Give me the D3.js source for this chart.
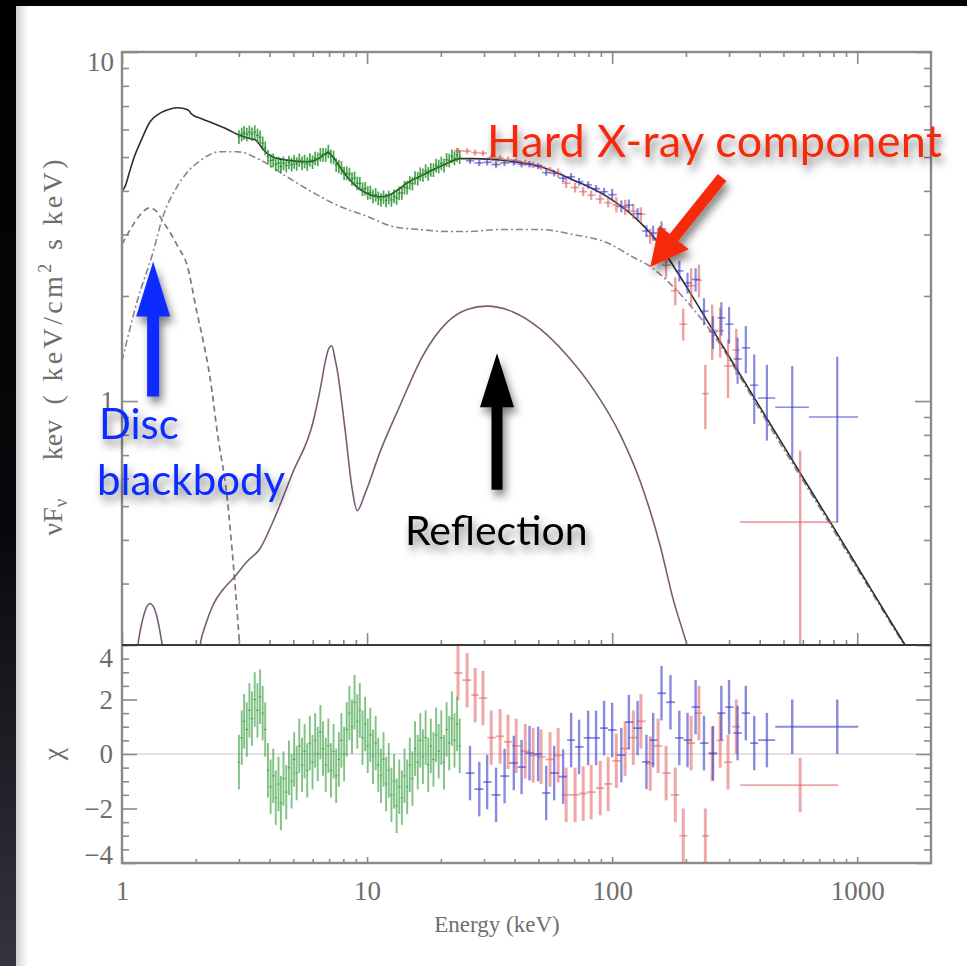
<!DOCTYPE html>
<html><head><meta charset="utf-8">
<script src="https://cdn.jsdelivr.net/npm/d3@7"></script>
<style>html,body{margin:0;padding:0;background:#000;overflow:hidden}</style>
</head><body>
<script>
// ---------------- DATA ----------------
const xTickMajor = [1, 10, 100, 1000];
const xTickLabels = ["1", "10", "100", "1000"];
const yTopMajor = [1, 10];
const yTopMinor = [0.2,0.3,0.4,0.5,0.6,0.7,0.8,0.9,2,3,4,5,6,7,8,9];
const yResMajor = [-4, -2, 0, 2, 4];

// total model (solid)
const totalE = [1.0,1.03,1.07,1.11,1.2,1.3,1.4,1.53,1.68,1.8,1.87,1.92,2.1,2.29,2.7,3.0,3.3,3.5,3.65,3.8,4.13,4.71,5.69,6.25,6.6,6.93,7.26,7.8,8.28,9.36,10.3,11.3,12.4,13.5,14.6,16.4,18.6,21.2,24,27.1,37.3,50.8,69.3,95.4,130,153,177,208,244,284,333,454,585,798,1163,1541,1650];
const totalF = [4.0,4.12,4.5,4.9,5.6,6.3,6.62,6.82,6.92,6.88,6.8,6.65,6.45,6.3,6.0,5.78,5.66,5.6,5.42,5.22,5.0,4.9,4.85,4.92,5.05,5.15,5.0,4.65,4.4,4.04,3.9,3.85,3.9,4.05,4.22,4.4,4.6,4.8,4.95,4.95,4.88,4.7,4.3,3.85,3.25,2.86,2.45,2.045,1.70,1.43,1.19,0.833,0.622,0.436,0.282,0.204,0.189];
// comptonised component (dash-dot)
const comptE = [1.0,1.05,1.16,1.33,1.47,1.68,1.84,2.08,2.51,2.95,3.66,4.71,6.01,7.76,10.0,12.8,16.4,21.2,25.6,34.9,50.8,69.3,95.4,121,143,177,228,280,333,454,585,798,1163,1541,1650];
const comptF = [1.3,1.5,1.96,2.63,3.38,4.12,4.51,4.88,5.18,5.18,4.91,4.39,3.96,3.61,3.38,3.16,3.10,3.06,3.06,3.10,3.10,3.0,2.84,2.59,2.43,2.13,1.74,1.43,1.17,0.815,0.61,0.428,0.278,0.202,0.187];
// disc blackbody (dashed)
const discE = [1.0,1.08,1.18,1.30,1.38,1.47,1.58,1.70,1.84,2.02,2.16,2.29,2.46,2.68,2.84,2.97,3.05];
const discF = [2.81,3.10,3.40,3.58,3.50,3.27,3.02,2.75,2.46,1.80,1.45,1.16,0.794,0.535,0.347,0.234,0.18];
// reflection (solid purple)
const reflE = [1.10,1.16,1.23,1.30,1.38,1.46,1.55,1.8,2.0,2.08,2.2,2.35,2.6,2.84,3.24,3.66,4.13,4.99,6.02,6.5,6.74,7.0,7.18,7.4,7.55,8.13,8.69,9.11,9.8,11.3,13.6,16.9,21.2,25.6,30.8,39.4,50.8,65.5,83.9,108,130,157,177,202,215];
const reflF = [0.15,0.2,0.245,0.263,0.245,0.2,0.15,0.1,0.15,0.198,0.23,0.26,0.29,0.31,0.347,0.378,0.451,0.627,0.871,1.12,1.29,1.42,1.44,1.32,1.23,0.83,0.561,0.485,0.542,0.715,0.968,1.35,1.68,1.83,1.87,1.80,1.61,1.35,1.08,0.80,0.59,0.385,0.272,0.2,0.17];

// low-energy instrument (green)
const greenE = [3.00,3.08,3.15,3.23,3.31,3.39,3.48,3.57,3.66,3.75,3.84,3.94,4.04,4.14,4.24,4.35,4.45,4.56,4.68,4.80,4.92,5.04,5.16,5.29,5.43,5.56,5.70,5.84,5.99,6.14,6.29,6.45,6.61,6.78,6.95,7.12,7.30,7.48,7.67,7.86,8.06,8.26,8.47,8.68,8.89,9.12,9.34,9.58,9.82,10.06,10.31,10.57,10.84,11.11,11.39,11.67,11.96,12.26,12.57,12.88,13.20,13.53,13.87,14.22,14.58,14.94,15.31,15.70,16.09,16.49,16.90,17.33,17.76,18.20,18.66,19.13,19.60,20.09,20.60,21.11,21.64,22.18,22.73,23.30,23.88];
const greenF = [5.71,5.81,5.87,5.81,5.89,5.82,5.90,5.77,5.70,5.48,5.30,5.02,4.89,4.90,4.77,4.80,4.70,4.80,4.73,4.83,4.76,4.85,4.78,4.90,4.80,4.86,4.78,4.91,4.84,4.96,4.93,5.08,5.08,5.07,5.19,5.02,4.99,4.75,4.70,4.66,4.49,4.50,4.46,4.33,4.35,4.21,4.20,4.05,4.06,3.95,3.96,3.86,3.90,3.81,3.77,3.84,3.76,3.83,3.77,3.86,3.82,3.94,3.95,4.09,4.09,4.22,4.20,4.36,4.34,4.47,4.44,4.56,4.48,4.60,4.59,4.73,4.70,4.80,4.73,4.91,4.89,5.03,4.96,5.07,5.00];
const greenRelErr = 0.045;
const greenChi = [-0.3,0.6,1.2,0.9,1.6,1.3,2.0,1.6,2.1,1.5,0.9,-0.6,-1.2,-0.8,-1.6,-1.1,-1.8,-0.9,-1.4,-0.5,-1.0,-0.2,-0.7,0.3,-0.4,0.1,-0.6,0.4,-0.3,0.5,0.0,0.8,0.2,-0.4,0.3,-0.6,0.1,-0.8,-0.2,0.5,0.0,0.9,1.5,1.0,1.9,1.2,1.6,0.6,1.1,0.3,0.7,-0.1,0.4,-0.4,-0.8,-0.2,-1.1,-0.6,-1.5,-1.0,-1.9,-1.2,-1.6,-0.8,-1.2,-0.4,-0.9,0.2,-0.3,0.5,-0.1,0.6,-0.4,0.3,-0.2,0.7,0.1,0.6,-0.3,0.9,0.4,1.3,0.5,1.1,0.3];

// hard X-ray instrument 1 (blue)
const blueE = [26.3,28.7,30.9,33.6,36.4,39.7,42.7,46.0,49.9,53.8,58.0,63.1,68.0,73.3,79.8,86.0,92.7,100,109,117,127,138,147,159,173,188,203,219,237,258,279,300,325,351,380,428,543,829];
const blueF = [4.88,4.81,4.83,4.76,4.81,4.83,4.77,4.77,4.71,4.51,4.49,4.35,4.39,4.25,4.16,4.06,3.98,3.90,3.61,3.64,3.44,3.07,3.03,3.11,2.75,2.36,2.18,2.23,1.81,1.58,1.73,1.66,1.32,1.42,1.11,1.02,0.96,0.90];
const blueLo = [4.78,4.71,4.73,4.66,4.71,4.73,4.67,4.67,4.62,4.42,4.40,4.24,4.28,4.14,4.06,3.96,3.88,3.75,3.47,3.50,3.31,2.95,2.88,2.95,2.60,2.20,2.03,2.06,1.65,1.41,1.54,1.46,1.12,1.20,0.86,0.77,0.68,0.45];
const blueHi = [4.98,4.91,4.93,4.86,4.91,4.93,4.87,4.87,4.80,4.60,4.58,4.46,4.50,4.36,4.26,4.16,4.08,4.05,3.76,3.78,3.57,3.19,3.18,3.27,2.90,2.52,2.33,2.40,1.97,1.75,1.92,1.86,1.52,1.64,1.36,1.27,1.26,1.34];
const blueEdges = [25.3,27.4,29.8,32.2,35.0,38.0,41.2,44.3,47.9,51.8,55.9,60.5,65.5,70.6,76.5,82.8,89.3,96.3,104.4,113,122,132.4,142.5,153,166,180.5,195.5,211,228,247.5,268.5,289.5,312.5,338,365.5,394,463,635,1010];
const blueChi = [-0.70,-1.29,-1.03,-1.50,-0.81,-0.33,-0.48,0.03,0.0,-1.43,-0.70,-0.83,0.51,0.26,0.59,0.59,0.95,0.88,-0.04,1.17,0.95,-0.29,0.51,2.23,1.9,0.59,0.51,1.72,0.4,0.03,1.5,1.72,0.77,1.5,0.4,0.51,1.0,1.0];

// hard X-ray instrument 2 (red)
const redE = [23.5,25.6,27.6,29.7,32.1,34.9,37.6,40.6,44.2,47.6,51.3,55.8,60.2,64.9,70.6,76.2,82.1,89.4,96.3,104,113,122,131,143,154,166,181,195,210,226,240,256,276,297,321,585];
const redF = [5.21,5.20,5.15,5.13,4.98,4.96,4.92,4.88,4.81,4.75,4.68,4.59,4.50,4.21,4.09,3.98,3.89,3.79,3.70,3.65,3.59,3.50,3.43,2.97,2.89,2.45,2.07,1.66,2.14,2.22,1.05,1.60,1.59,1.26,1.40,0.45];
const redLo = [5.11,5.10,5.05,5.03,4.88,4.86,4.82,4.78,4.71,4.65,4.59,4.50,4.36,4.08,3.96,3.86,3.77,3.67,3.59,3.47,3.41,3.33,3.27,2.82,2.66,2.25,1.88,1.49,1.87,1.98,0.83,1.31,1.33,1.02,1.19,0.05];
const redHi = [5.31,5.30,5.25,5.23,5.08,5.06,5.02,4.98,4.91,4.85,4.77,4.68,4.64,4.34,4.22,4.11,4.01,3.91,3.82,3.84,3.77,3.67,3.59,3.12,3.12,2.66,2.26,1.84,2.40,2.46,1.27,1.89,1.85,1.50,1.61,0.72];
const redEdges = [22.6,24.5,26.6,28.6,30.9,33.5,36.2,39.1,42.4,45.9,49.4,53.5,58.0,62.5,67.7,73.4,79.1,85.7,92.8,100,108.5,117.5,126.5,137,148.5,160,173.5,188,202.5,218,233,248,266,286,309,333,836];
const redChi = [2.97,2.71,2.16,2.05,0.6,0.65,0.45,0.3,0.1,-0.05,-0.1,-0.2,-0.05,-1.5,-1.5,-1.45,-1.4,-1.25,-1.1,-0.25,0.2,0.6,1.2,-0.35,0.3,-0.7,-1.5,-3.0,0.4,1.5,-3.0,0.0,0.5,-0.3,1.0,-1.14];

// annotations (anchored in data space: [E, F])
const annoArrows = [
  {tail:[281,4.37], tip:[143,2.42], color:"#f52a0a", sw:11, hl:38, hw:38},
  {tail:[1.34,1.03], tip:[1.34,2.51], color:"#0b2bff", sw:12, hl:55, hw:34},
  {tail:[33.9,0.557], tip:[33.9,1.37], color:"#000000", sw:11, hl:54, hw:34}
];

// ---------------- DRAW ----------------
const W = 967, H = 966;
const svg = d3.select("body").append("svg").attr("width", W).attr("height", H);
const defs = svg.append("defs");
const f1 = defs.append("filter").attr("id","shadow").attr("x","-40%").attr("y","-40%").attr("width","180%").attr("height","200%");
f1.append("feDropShadow").attr("dx",3).attr("dy",6).attr("stdDeviation",4).attr("flood-color","#000").attr("flood-opacity",0.5);
const lg = defs.append("linearGradient").attr("id","strip").attr("x1",0).attr("y1",0).attr("x2",0).attr("y2",1);
lg.append("stop").attr("offset","0%").attr("stop-color","#000");
lg.append("stop").attr("offset","55%").attr("stop-color","#08080c");
lg.append("stop").attr("offset","100%").attr("stop-color","#34343f");
const lg2 = defs.append("linearGradient").attr("id","edge").attr("x1",0).attr("y1",0).attr("x2",1).attr("y2",0);
lg2.append("stop").attr("offset","0%").attr("stop-color","#d0d0d0");
lg2.append("stop").attr("offset","100%").attr("stop-color","#ffffff");

svg.append("rect").attr("width", W).attr("height", H).attr("fill", "#000");
svg.append("rect").attr("x",0).attr("y",0).attr("width",16).attr("height",H).attr("fill","url(#strip)");
svg.append("rect").attr("x",16).attr("y",6).attr("width",W-16).attr("height",H-6).attr("fill","#fff");
svg.append("rect").attr("x",16).attr("y",6).attr("width",12).attr("height",H-6).attr("fill","url(#edge)");

const x = d3.scaleLog().domain([1, 2000]).range([122, 931]);
const yT = d3.scaleLog().domain([0.2, 10]).range([645, 52]);
const yR = d3.scaleLinear().domain([-4, 4]).range([863, 645]);

defs.append("clipPath").attr("id","clipT").append("rect").attr("x",122).attr("y",52).attr("width",809).attr("height",593);
defs.append("clipPath").attr("id","clipR").append("rect").attr("x",122).attr("y",645).attr("width",809).attr("height",218);

const zip = (a,b) => a.map((v,i)=>[v,b[i]]);
const lineT = d3.line().x(d=>x(d[0])).y(d=>yT(d[1])).curve(d3.curveMonotoneX);

// residual zero line
svg.append("line").attr("x1",x(1)).attr("x2",x(2000)).attr("y1",yR(0)).attr("y2",yR(0))
  .attr("stroke","#c9c2cf").attr("stroke-width",1.2);

// models
const gT = svg.append("g").attr("clip-path","url(#clipT)");
gT.append("path").datum(zip(discE,discF)).attr("d",lineT).attr("fill","none")
  .attr("stroke","#7d787d").attr("stroke-width",1.7).attr("stroke-dasharray","6,4");
gT.append("path").datum(zip(comptE,comptF)).attr("d",lineT).attr("fill","none")
  .attr("stroke","#8f8290").attr("stroke-width",1.6).attr("stroke-dasharray","7,3,2,3");
gT.append("path").datum(zip(reflE,reflF)).attr("d",lineT).attr("fill","none")
  .attr("stroke","#7a5a78").attr("stroke-width",1.6);
gT.append("path").datum(zip(totalE,totalF)).attr("d",lineT).attr("fill","none")
  .attr("stroke","#2e2e2e").attr("stroke-width",1.6);

// error-bar crosses
function crosses(g, E, V, lo, hi, edges, yS, color, op, vw, hw) {
  const n = E.length;
  const grp = g.append("g").attr("stroke", color).attr("stroke-opacity", op);
  for (let i = 0; i < n; i++) {
    grp.append("line").attr("x1",x(E[i])).attr("x2",x(E[i]))
      .attr("y1",yS(lo[i])).attr("y2",yS(hi[i])).attr("stroke-width",vw);
    grp.append("line").attr("x1",x(edges[i])).attr("x2",x(edges[i+1]))
      .attr("y1",yS(V[i])).attr("y2",yS(V[i])).attr("stroke-width",hw);
  }
}
// green bin edges from neighbouring channel centres
const greenEdges = [greenE[0]*greenE[0]/Math.sqrt(greenE[0]*greenE[1])];
for (let i=0;i<greenE.length-1;i++) greenEdges.push(Math.sqrt(greenE[i]*greenE[i+1]));
greenEdges.push(greenE[greenE.length-1]*greenE[greenE.length-1]/greenEdges[greenEdges.length-1]);

crosses(gT, greenE, greenF, greenF.map(v=>v*(1-greenRelErr)), greenF.map(v=>v*(1+greenRelErr)), greenEdges, yT, "#1f8c26", 0.8, 1.7, 1.4);
crosses(gT, redE, redF, redLo, redHi, redEdges, yT, "#e0605f", 0.6, 2.4, 1.6);
crosses(gT, blueE, blueF, blueLo, blueHi, blueEdges, yT, "#3c3cc8", 0.6, 2.2, 1.6);

const gR = svg.append("g").attr("clip-path","url(#clipR)");
crosses(gR, greenE, greenChi, greenChi.map(v=>v-1), greenChi.map(v=>v+1), greenEdges, yR, "#2a9a30", 0.6, 1.9, 1.2);
crosses(gR, redE, redChi, redChi.map(v=>v-1), redChi.map(v=>v+1), redEdges, yR, "#e0605f", 0.55, 3, 1.8);
crosses(gR, blueE, blueChi, blueChi.map(v=>v-1), blueChi.map(v=>v+1), blueEdges, yR, "#3c3cc8", 0.6, 2.4, 1.8);

// axes
const AX = "#8a8a8a";
const FONT = "'Liberation Serif','DejaVu Serif',serif";
function style(g) {
  g.select(".domain").remove();
  g.selectAll(".tick line").attr("stroke", AX).attr("stroke-width", 1.6);
  g.selectAll(".tick text").attr("font-family", FONT).attr("font-size", 27).attr("fill", "#6e6e6e");
  return g;
}
const xMinor = [];
[1,10,100,1000].forEach(d=>{for(let k=2;k<=9;k++){ if(d*k<2000) xMinor.push(d*k);} });
const yResMinor = d3.range(-4, 4.01, 0.5).filter(v => v % 2 !== 0);

style(svg.append("g").attr("transform","translate(0,52)").call(d3.axisTop(x).tickValues(xTickMajor).tickSize(-12).tickFormat("")));
style(svg.append("g").attr("transform","translate(0,52)").call(d3.axisTop(x).tickValues(xMinor).tickSize(-5).tickFormat("")));
style(svg.append("g").attr("transform","translate(0,645)").call(d3.axisBottom(x).tickValues(xTickMajor).tickSize(-12).tickFormat("")));
style(svg.append("g").attr("transform","translate(0,645)").call(d3.axisBottom(x).tickValues(xMinor).tickSize(-5).tickFormat("")));
style(svg.append("g").attr("transform","translate(0,863)").call(d3.axisBottom(x).tickValues(xTickMajor).tickSize(-6).tickPadding(18).tickFormat((d,i)=>xTickLabels[i])));
style(svg.append("g").attr("transform","translate(0,863)").call(d3.axisBottom(x).tickValues(xMinor).tickSize(-4).tickFormat("")));

const yl = style(svg.append("g").attr("transform","translate(122,0)").call(d3.axisLeft(yT).tickValues(yTopMajor).tickSize(-16).tickPadding(8).tickFormat(d3.format("d"))));
yl.selectAll(".tick text").filter(d=>d===10).attr("dy","0.7em");
style(svg.append("g").attr("transform","translate(122,0)").call(d3.axisLeft(yT).tickValues(yTopMinor).tickSize(-7).tickFormat("")));
style(svg.append("g").attr("transform","translate(931,0)").call(d3.axisRight(yT).tickValues(yTopMajor).tickSize(-16).tickFormat("")));
style(svg.append("g").attr("transform","translate(931,0)").call(d3.axisRight(yT).tickValues(yTopMinor).tickSize(-7).tickFormat("")));

const yrl = style(svg.append("g").attr("transform","translate(122,0)").call(d3.axisLeft(yR).tickValues(yResMajor).tickSize(-15).tickPadding(9)));
yrl.selectAll(".tick text").filter(d=>d===4).attr("dy","0.78em");
yrl.selectAll(".tick text").filter(d=>d===-4).attr("dy","0.0em");
style(svg.append("g").attr("transform","translate(122,0)").call(d3.axisLeft(yR).tickValues(yResMinor).tickSize(-7).tickFormat("")));
style(svg.append("g").attr("transform","translate(931,0)").call(d3.axisRight(yR).tickValues(yResMajor).tickSize(-15).tickFormat("")));
style(svg.append("g").attr("transform","translate(931,0)").call(d3.axisRight(yR).tickValues(yResMinor).tickSize(-7).tickFormat("")));

// frames
svg.append("rect").attr("x",122).attr("y",52).attr("width",809).attr("height",811)
  .attr("fill","none").attr("stroke",AX).attr("stroke-width",2.4);
svg.append("line").attr("x1",122).attr("x2",931).attr("y1",645).attr("y2",645)
  .attr("stroke","#3a3a3a").attr("stroke-width",2);

// axis titles
svg.append("text").attr("x",497).attr("y",932).attr("text-anchor","middle")
  .attr("font-family",FONT).attr("font-size",23).attr("fill","#6e6e6e").text("Energy (keV)");
const yt = svg.append("g").attr("font-family",FONT).attr("font-size",28).attr("fill","#6e6e6e");
const t1 = yt.append("text").attr("transform","translate(62,517) rotate(-90)").attr("text-anchor","middle");
t1.append("tspan").text("νF");
t1.append("tspan").attr("font-size",19).attr("dy",5).text("ν");
yt.append("text").attr("transform","translate(62,440) rotate(-90)").attr("text-anchor","middle").text("kev");
const t3 = yt.append("text").attr("transform","translate(62,282) rotate(-90)").attr("text-anchor","middle")
  .attr("textLength",245).attr("lengthAdjust","spacing");
t3.append("tspan").text("( keV/cm");
t3.append("tspan").attr("font-size",18).attr("dy",-11).text("2");
t3.append("tspan").attr("dy",11).text(" s keV)");
yt.append("text").attr("transform","translate(62,754) rotate(-90)").attr("text-anchor","middle").text("χ");

// annotation arrows and labels
function arrowPts(x0,y0,x1,y1,sw,hl,hw){
  const dx=x1-x0, dy=y1-y0, L=Math.hypot(dx,dy), ux=dx/L, uy=dy/L, nx=-uy, ny=ux;
  const bx=x1-ux*hl, by=y1-uy*hl;
  return [[x0+nx*sw/2,y0+ny*sw/2],[bx+nx*sw/2,by+ny*sw/2],[bx+nx*hw/2,by+ny*hw/2],[x1,y1],
          [bx-nx*hw/2,by-ny*hw/2],[bx-nx*sw/2,by-ny*sw/2],[x0-nx*sw/2,y0-ny*sw/2]];
}
const ga = svg.append("g").attr("filter","url(#shadow)");
annoArrows.forEach(a=>{
  const p = arrowPts(x(a.tail[0]),yT(a.tail[1]),x(a.tip[0]),yT(a.tip[1]),a.sw,a.hl,a.hw);
  ga.append("polygon").attr("points",p.map(q=>q.join(",")).join(" ")).attr("fill",a.color);
});
const AF = "Lato,'Open Sans',sans-serif";
ga.append("text").attr("x",487).attr("y",157).attr("font-family",AF).attr("font-size",45)
  .attr("fill","#f52a0a").attr("textLength",455).attr("lengthAdjust","spacing").text("Hard X-ray component");
ga.append("text").attr("x",99).attr("y",439).attr("font-family",AF).attr("font-size",42)
  .attr("fill","#0b2bff").text("Disc");
ga.append("text").attr("x",97).attr("y",495).attr("font-family",AF).attr("font-size",42)
  .attr("fill","#0b2bff").text("blackbody");
ga.append("text").attr("x",405).attr("y",545).attr("font-family",AF).attr("font-size",41)
  .attr("fill","#000").text("Reflection");
</script></body></html>
